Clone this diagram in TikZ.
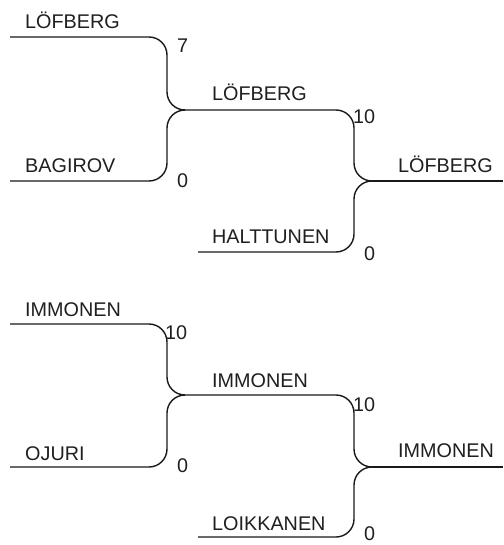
\documentclass[tikz,border=0pt]{standalone}
\usepackage{fontspec}
\setmainfont{Liberation Sans}
\begin{document}
\begin{tikzpicture}[x=1pt,y=-1pt,
  br/.style={line width=1.4pt,draw=black!90,rounded corners=18pt},
  lbl/.style={anchor=base west,inner sep=0pt,font=\fontsize{19.8}{22}\selectfont,text=black!88}]
\useasboundingbox (0,0) rectangle (503,545);
% ---- top bracket ----
\coordinate (p1) at (10,37);
\coordinate (p2) at (10,181);
\coordinate (j1) at (185,110);
\coordinate (p3) at (198,252);
\coordinate (j2) at (372,181);
\coordinate (e1) at (503,181);
\draw[br] (p1) -| ([xshift=-18pt]j1) -- (j1);
\draw[br] (p2) -| ([xshift=-18pt]j1) -- (j1);
\draw[br] (j1) -| ([xshift=-18pt]j2) -- (j2);
\draw[br] (p3) -| ([xshift=-18pt]j2) -- (j2);
\draw[br] (j2) -- (e1);
\node[lbl] (n1) at (25,29) {LÖFBERG};
\node[lbl] (n2) at (25,173) {BAGIROV};
\node[lbl] (n3) at (212,101) {LÖFBERG};
\node[lbl] (n4) at (212,243) {HALTTUNEN};
\node[lbl] (n5) at (398,173) {LÖFBERG};
\node[lbl] (s1) at (177,53) {7};
\node[lbl] (s2) at (177,188) {0};
\node[lbl] (s3) at (353,124) {10};
\node[lbl] (s4) at (364,260) {0};
% ---- bottom bracket ----
\coordinate (p4) at (10,324);
\coordinate (p5) at (10,467);
\coordinate (j3) at (185,395);
\coordinate (p6) at (198,537);
\coordinate (j4) at (372,467);
\coordinate (e2) at (503,467);
\draw[br] (p4) -| ([xshift=-18pt]j3) -- (j3);
\draw[br] (p5) -| ([xshift=-18pt]j3) -- (j3);
\draw[br] (j3) -| ([xshift=-18pt]j4) -- (j4);
\draw[br] (p6) -| ([xshift=-18pt]j4) -- (j4);
\draw[br] (j4) -- (e2);
\node[lbl] (m1) at (25,316) {IMMONEN};
\node[lbl] (m2) at (25,460) {OJURI};
\node[lbl] (m3) at (212,387) {IMMONEN};
\node[lbl] (m4) at (212,530) {LOIKKANEN};
\node[lbl] (m5) at (398,457) {IMMONEN};
\node[lbl] (t1) at (165,339) {10};
\node[lbl] (t2) at (177,472) {0};
\node[lbl] (t3) at (353,411) {10};
\node[lbl] (t4) at (364,540) {0};
\end{tikzpicture}
\end{document}
